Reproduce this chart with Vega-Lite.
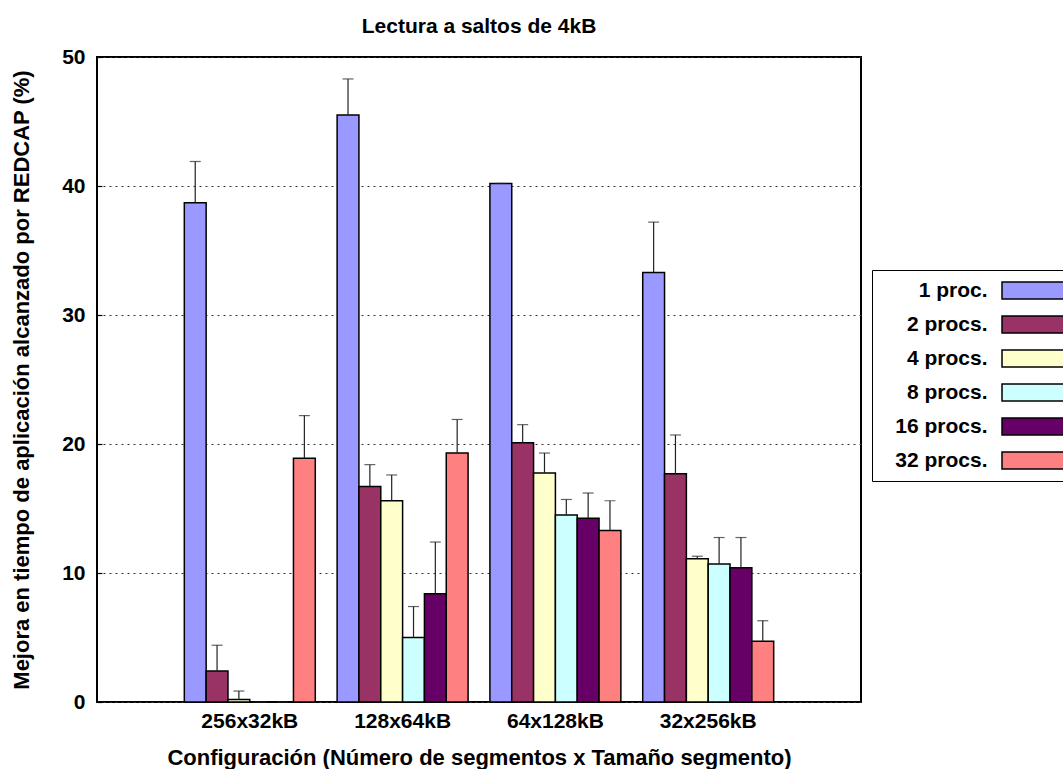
{
  "$schema": "https://vega.github.io/schema/vega-lite/v6.json",
  "autosize": {"type": "none"},
  "padding": {"left": 97, "top": 57, "right": 202, "bottom": 67},
  "width": 764,
  "height": 645,
  "background": "white",
  "config": {
    "font": "Liberation Sans",
    "view": {"stroke": "black", "strokeWidth": 2},
    "axis": {
      "labelFont": "Liberation Sans",
      "labelFontSize": 21,
      "labelFontWeight": "bold",
      "labelColor": "black",
      "titleFont": "Liberation Sans",
      "titleFontSize": 22,
      "titleFontWeight": "bold",
      "titleColor": "black"
    }
  },
  "title": {
    "text": "Lectura a saltos de 4kB",
    "font": "Liberation Sans",
    "fontSize": 21,
    "fontWeight": "bold",
    "color": "black",
    "anchor": "middle",
    "offset": 9
  },
  "data": {
    "values": [
      {"config": "256x32kB", "procs": "1 proc.", "value": 38.7, "upper": 41.9},
      {"config": "256x32kB", "procs": "2 procs.", "value": 2.4, "upper": 4.4},
      {"config": "256x32kB", "procs": "4 procs.", "value": 0.2, "upper": 0.85},
      {"config": "256x32kB", "procs": "8 procs.", "value": 0, "upper": 0},
      {"config": "256x32kB", "procs": "16 procs.", "value": 0, "upper": 0},
      {"config": "256x32kB", "procs": "32 procs.", "value": 18.9, "upper": 22.2},
      {"config": "128x64kB", "procs": "1 proc.", "value": 45.5, "upper": 48.3},
      {"config": "128x64kB", "procs": "2 procs.", "value": 16.7, "upper": 18.4},
      {"config": "128x64kB", "procs": "4 procs.", "value": 15.6, "upper": 17.6},
      {"config": "128x64kB", "procs": "8 procs.", "value": 5.0, "upper": 7.4},
      {"config": "128x64kB", "procs": "16 procs.", "value": 8.4, "upper": 12.4},
      {"config": "128x64kB", "procs": "32 procs.", "value": 19.3, "upper": 21.9},
      {"config": "64x128kB", "procs": "1 proc.", "value": 40.2, "upper": 40.2},
      {"config": "64x128kB", "procs": "2 procs.", "value": 20.1, "upper": 21.5},
      {"config": "64x128kB", "procs": "4 procs.", "value": 17.75, "upper": 19.3},
      {"config": "64x128kB", "procs": "8 procs.", "value": 14.5, "upper": 15.7},
      {"config": "64x128kB", "procs": "16 procs.", "value": 14.25, "upper": 16.2},
      {"config": "64x128kB", "procs": "32 procs.", "value": 13.3, "upper": 15.6},
      {"config": "32x256kB", "procs": "1 proc.", "value": 33.3, "upper": 37.2},
      {"config": "32x256kB", "procs": "2 procs.", "value": 17.7, "upper": 20.7},
      {"config": "32x256kB", "procs": "4 procs.", "value": 11.1, "upper": 11.3},
      {"config": "32x256kB", "procs": "8 procs.", "value": 10.7, "upper": 12.75},
      {"config": "32x256kB", "procs": "16 procs.", "value": 10.4, "upper": 12.75},
      {"config": "32x256kB", "procs": "32 procs.", "value": 4.7, "upper": 6.3}
    ]
  },
  "encoding": {
    "x": {
      "field": "config",
      "type": "nominal",
      "sort": ["256x32kB", "128x64kB", "64x128kB", "32x256kB"],
      "scale": {"paddingInner": 0.142857, "paddingOuter": 0.571429},
      "axis": {
        "title": "Configuración (Número de segmentos x Tamaño segmento)",
        "labelAngle": 0,
        "labelPadding": 8,
        "titlePadding": 16,
        "ticks": false,
        "domain": false,
        "grid": false
      }
    },
    "xOffset": {
      "field": "procs",
      "type": "nominal",
      "sort": ["1 proc.", "2 procs.", "4 procs.", "8 procs.", "16 procs.", "32 procs."],
      "scale": {"paddingInner": 0, "paddingOuter": 0}
    }
  },
  "layer": [
    {
      "mark": {"type": "bar", "stroke": "black", "strokeWidth": 1.5, "opacity": 1},
      "encoding": {
        "y": {
          "field": "value",
          "type": "quantitative",
          "scale": {"domain": [0, 50], "nice": false},
          "axis": {
            "title": "Mejora en tiempo de aplicación alcanzado por REDCAP (%)",
            "values": [0, 10, 20, 30, 40, 50],
            "grid": true,
            "gridDash": [2, 4],
            "gridColor": "#333333",
            "gridWidth": 1,
            "domain": false,
            "ticks": true,
            "tickSize": -5,
            "tickColor": "black",
            "tickWidth": 1.2,
            "labelPadding": 17,
            "titlePadding": 28
          }
        },
        "color": {
          "field": "procs",
          "type": "nominal",
          "sort": ["1 proc.", "2 procs.", "4 procs.", "8 procs.", "16 procs.", "32 procs."],
          "scale": {
            "domain": ["1 proc.", "2 procs.", "4 procs.", "8 procs.", "16 procs.", "32 procs."],
            "range": ["#9999ff", "#993366", "#ffffcc", "#ccffff", "#660066", "#ff8080"]
          },
          "legend": {
            "title": null,
            "orient": "none",
            "legendX": 775,
            "legendY": 213,
            "direction": "vertical",
            "symbolType": "M-3,-0.73H3V0.73H-3Z",
            "symbolSize": 544,
            "symbolStrokeColor": "black",
            "symbolStrokeWidth": 1.5,
            "symbolOpacity": 1,
            "symbolOffset": 144.5,
            "labelOffset": -62,
            "labelAlign": "right",
            "labelFont": "Liberation Sans",
            "labelFontSize": 21,
            "labelFontWeight": "bold",
            "labelColor": "black",
            "strokeColor": "black",
            "padding": 8,
            "rowPadding": 9
          }
        }
      }
    },
    {
      "mark": {"type": "rule", "color": "#222222", "strokeWidth": 1.2},
      "encoding": {
        "y": {"field": "value", "type": "quantitative"},
        "y2": {"field": "upper"}
      }
    },
    {
      "mark": {"type": "tick", "color": "#222222", "thickness": 1.2, "size": 11},
      "encoding": {
        "y": {"field": "upper", "type": "quantitative"}
      }
    }
  ]
}
